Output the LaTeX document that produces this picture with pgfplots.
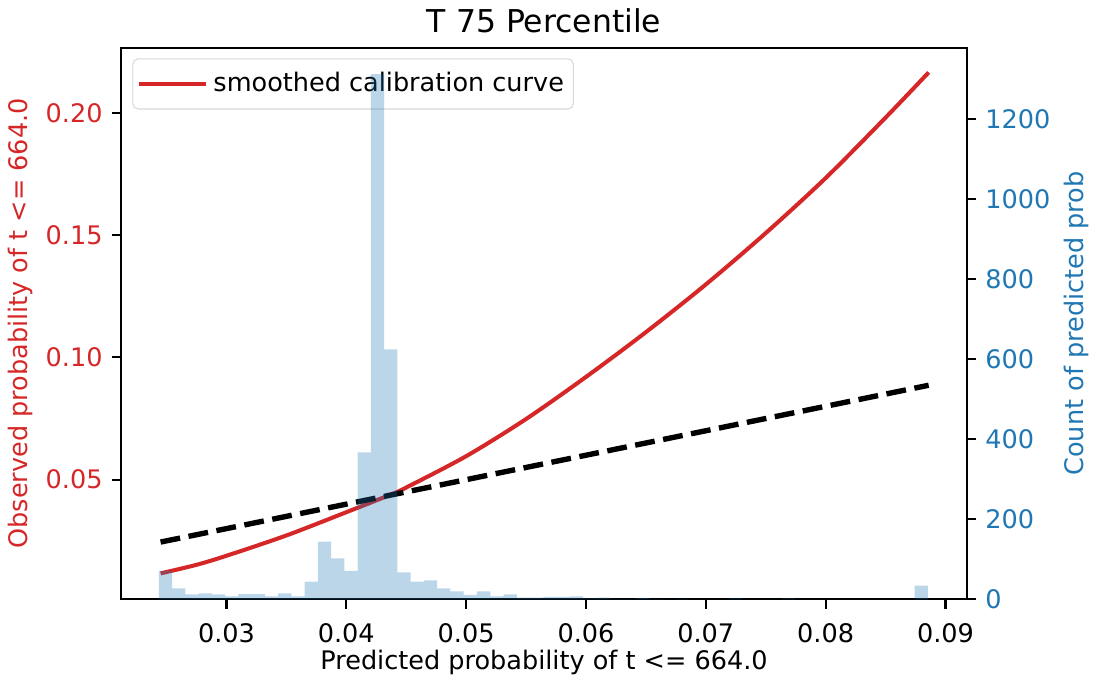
\documentclass[border=0pt]{standalone}
\usepackage{fontspec}
\setmainfont{DejaVu Sans}
\usepackage{pgfplots}
\pgfplotsset{compat=1.18}
\definecolor{tabred}{HTML}{D62728}
\definecolor{tabblue}{HTML}{1F77B4}
\begin{document}
\fontsize{9.5}{11.5}\selectfont
\begin{tikzpicture}[font=\fontsize{9.5}{11.5}\selectfont]
\begin{axis}[
  name=ax1,
  scale only axis, width=314.7pt, height=205.2pt,
  xmin=0.0212, xmax=0.0918, ymin=0.0011, ymax=0.2266,
  axis line style={line width=0.8pt},
  tick align=outside, major tick length=3.5pt,
  tick style={black, line width=0.8pt},
  xtick pos=bottom, ytick pos=left,
  xtick={0.03,0.04,0.05,0.06,0.07,0.08,0.09},
  ytick={0.05,0.10,0.15,0.20},
  /pgf/number format/assume math mode=true,
  /pgf/number format/.cd, fixed, fixed zerofill, precision=2, /pgfplots/.cd,
  scaled ticks=false,
  tick label style={font=\fontsize{9.5}{11.5}\selectfont},
  xticklabel style={yshift=-2pt},
  yticklabel style={text=tabred},
  title={T 75 Percentile},
  every axis title/.style={at={(0.5,1.049)}, anchor=center, font=\fontsize{11.7}{14}\selectfont},
  xlabel={Predicted probability of t <= 664.0},
  every axis x label/.style={at={(0.5,-0.114)}, anchor=center, font=\fontsize{9.5}{11.5}\selectfont},
  ylabel={Observed probability of t <= 664.0},
  every axis y label/.style={at={(-0.1184,0.5)}, rotate=90, anchor=center, text=tabred, font=\fontsize{9.5}{11.5}\selectfont},
  legend style={at={(axis description cs:0.0133,0.9807)}, anchor=north west,
    draw=black!15, rounded corners=2pt, fill=white, fill opacity=0.8, text opacity=1,
    inner xsep=1.5pt, inner ysep=3pt, font=\fontsize{9.5}{11.5}\selectfont},
  legend cell align=left,
  legend image code/.code={\draw[#1] (1pt,0pt) -- (21pt,0pt); \path (0pt,0pt) -- (25pt,0pt);},
]
\addplot[tabred, line width=1.5pt, smooth] coordinates {
(0.0245,0.0117) (0.0275,0.0152) (0.0300,0.0189) (0.0350,0.0272) (0.0400,0.0367)
(0.0436,0.0437) (0.0450,0.0468) (0.0500,0.0596) (0.0550,0.0748) (0.0600,0.0920)
(0.0650,0.1103) (0.0700,0.1298) (0.0750,0.1508) (0.0800,0.1733) (0.0850,0.1980)
(0.0886,0.2165)};
\addlegendentry{smoothed calibration curve}
\addplot[black, line width=2pt, dash pattern=on 7.4pt off 3.2pt, forget plot] coordinates {
(0.0245,0.0245) (0.0886,0.0886)};
\end{axis}
\begin{axis}[
  scale only axis, width=314.7pt, height=205.2pt,
  xmin=0.0212, xmax=0.0918, ymin=0, ymax=1379,
  axis x line=none, axis y line*=right,
  axis line style={line width=0.8pt},
  tick align=outside, major tick length=3.5pt,
  tick style={black, line width=0.8pt},
  ytick={0,200,400,600,800,1000,1200},
  /pgf/number format/assume math mode=true,
  /pgf/number format/1000 sep={},
  tick label style={font=\fontsize{9.5}{11.5}\selectfont},
  yticklabel style={text=tabblue},
  ylabel={Count of predicted prob},
  every axis y label/.style={at={(1.1290,0.5)}, rotate=90, anchor=center, text=tabblue, font=\fontsize{9.5}{11.5}\selectfont},
]
\addplot[ybar interval, fill=tabblue, fill opacity=0.3, draw=none] coordinates {
(0.024350,71) (0.025457,27) (0.026563,12) (0.027670,15) (0.028776,12)
(0.029883,7) (0.030989,13) (0.032096,13) (0.033202,7) (0.034309,15)
(0.035415,7) (0.036522,44) (0.037628,144) (0.038735,102) (0.039841,71)
(0.040948,367) (0.042054,1313) (0.043161,625) (0.044267,67) (0.045374,44)
(0.046480,47) (0.047587,27) (0.048693,20) (0.049800,11) (0.050906,20)
(0.052013,7) (0.053119,12) (0.054226,4) (0.055332,4) (0.056439,6)
(0.057545,6) (0.058652,7) (0.059758,2) (0.060865,4) (0.061971,1)
(0.063078,1) (0.064184,3) (0.065291,1) (0.066397,0) (0.067504,1)
(0.068610,0) (0.069717,0) (0.070823,0) (0.071930,2) (0.073036,0)
(0.074143,0) (0.075249,0) (0.076356,2) (0.077462,0) (0.078569,0)
(0.079675,0) (0.080782,0) (0.081888,0) (0.082995,0) (0.084101,0)
(0.085208,0) (0.086314,0) (0.087421,34) (0.088527,0)};
\end{axis}
\path ([shift={(-45.03pt,-29.97pt)}]ax1.south west) rectangle ([shift={(46.14pt,17.5pt)}]ax1.north east);
\end{tikzpicture}
\end{document}
